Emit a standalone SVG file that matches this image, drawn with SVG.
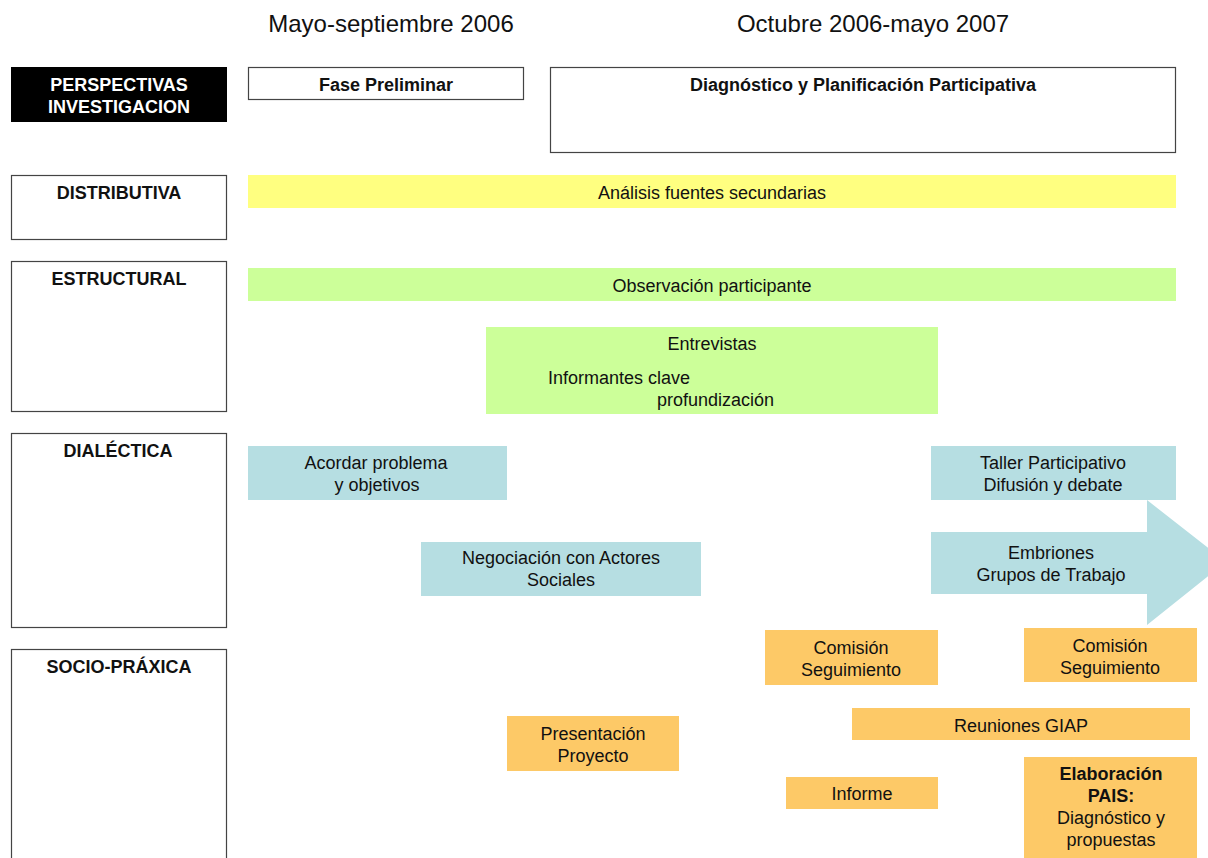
<svg xmlns="http://www.w3.org/2000/svg" width="1208" height="858" viewBox="0 0 1208 858">
<style>
text{font-family:"Liberation Sans",Arial,sans-serif;font-size:18px;fill:#111;text-anchor:middle}
.b{font-weight:bold}
.hdr{font-size:24px}
.frame{fill:#fff;stroke:#444;stroke-width:1.2}
.y{fill:#ffff80}
.g{fill:#ccff99}
.c{fill:#b6dee2}
.o{fill:#fdc967}
</style>
<rect width="1208" height="858" fill="#fff"/>
<g id="headers">
<text class="hdr" x="391" y="32">Mayo-septiembre 2006</text>
<text class="hdr" x="873" y="32">Octubre 2006-mayo 2007</text>
</g>
<g id="perspectivas">
<rect x="11" y="67" width="216" height="55" fill="#000"/>
<text class="b" x="119" y="91" style="fill:#fff">PERSPECTIVAS</text>
<text class="b" x="119" y="113" style="fill:#fff">INVESTIGACION</text>
</g>
<g id="distributiva">
<rect class="frame" x="11.5" y="175.5" width="215" height="64"/>
<text class="b" x="119" y="199">DISTRIBUTIVA</text>
</g>
<g id="estructural">
<rect class="frame" x="11.5" y="261.5" width="215" height="150"/>
<text class="b" x="119" y="285">ESTRUCTURAL</text>
</g>
<g id="dialectica">
<rect class="frame" x="11.5" y="433.5" width="215" height="194"/>
<text class="b" x="118" y="457">DIALÉCTICA</text>
</g>
<g id="sociopraxica">
<rect class="frame" x="11.5" y="649.5" width="215" height="215"/>
<text class="b" x="119" y="673">SOCIO-PRÁXICA</text>
</g>
<g id="fase-preliminar">
<rect class="frame" x="248.5" y="67.5" width="275" height="32"/>
<text class="b" x="386" y="91">Fase Preliminar</text>
</g>
<g id="diagnostico">
<rect class="frame" x="550.5" y="67.5" width="625" height="85"/>
<text class="b" x="863" y="91">Diagnóstico y Planificación Participativa</text>
</g>
<g id="analisis">
<rect class="y" x="248" y="175" width="928" height="33"/>
<text x="712" y="199">Análisis fuentes secundarias</text>
</g>
<g id="observacion">
<rect class="g" x="248" y="268" width="928" height="33"/>
<text x="712" y="292">Observación participante</text>
</g>
<g id="entrevistas">
<rect class="g" x="486" y="327" width="452" height="87"/>
<text x="712" y="350">Entrevistas</text>
<text x="548" y="384" style="text-anchor:start">Informantes clave</text>
<text x="657" y="406" style="text-anchor:start">profundización</text>
</g>
<g id="acordar">
<rect class="c" x="248" y="446" width="259" height="54"/>
<text x="376" y="469">Acordar problema</text>
<text x="377" y="491">y objetivos</text>
</g>
<g id="taller">
<rect class="c" x="931" y="446" width="245" height="54"/>
<text x="1053" y="469">Taller Participativo</text>
<text x="1053" y="491">Difusión y debate</text>
</g>
<g id="negociacion">
<rect class="c" x="421" y="542" width="280" height="54"/>
<text x="561" y="564">Negociación con Actores</text>
<text x="561" y="586">Sociales</text>
</g>
<g id="embriones">
<polygon class="c" points="931,532 1147,532 1147,500 1226,562 1147,625 1147,594 931,594"/>
<text x="1051" y="559">Embriones</text>
<text x="1051" y="581">Grupos de Trabajo</text>
</g>
<g id="comision1">
<rect class="o" x="765" y="630" width="173" height="55"/>
<text x="851" y="654">Comisión</text>
<text x="851" y="676">Seguimiento</text>
</g>
<g id="comision2">
<rect class="o" x="1024" y="628" width="173" height="54"/>
<text x="1110" y="652">Comisión</text>
<text x="1110" y="674">Seguimiento</text>
</g>
<g id="reuniones">
<rect class="o" x="852" y="708" width="338" height="32"/>
<text x="1021" y="732">Reuniones GIAP</text>
</g>
<g id="presentacion">
<rect class="o" x="507" y="716" width="172" height="55"/>
<text x="593" y="740">Presentación</text>
<text x="593" y="762">Proyecto</text>
</g>
<g id="informe">
<rect class="o" x="786" y="777" width="152" height="32"/>
<text x="862" y="800">Informe</text>
</g>
<g id="elaboracion">
<rect class="o" x="1024" y="757" width="173" height="101"/>
<text class="b" x="1111" y="780">Elaboración</text>
<text class="b" x="1111" y="802">PAIS:</text>
<text x="1111" y="824">Diagnóstico y</text>
<text x="1111" y="846">propuestas</text>
</g>
<g id="connectors"/>
</svg>
